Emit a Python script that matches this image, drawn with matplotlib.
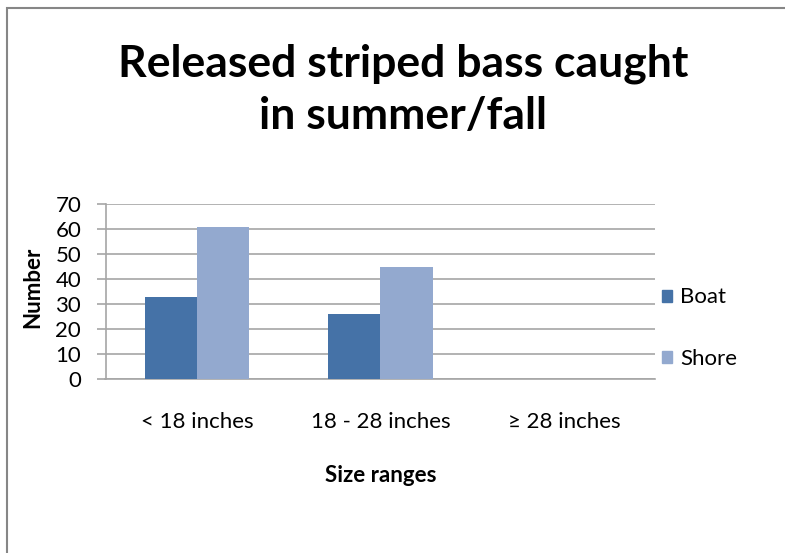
import matplotlib
matplotlib.use("Agg")
import matplotlib.pyplot as plt
from matplotlib.patches import Rectangle, Patch
import numpy as np

categories = ["< 18 inches", "18 - 28 inches", "\u2265 28 inches"]
boat = [33, 26, 0]
shore = [61, 45, 0]
series_names = ["Boat", "Shore"]
yticks = [0, 10, 20, 30, 40, 50, 60, 70]

FONT = ["Lato", "DejaVu Sans"]
plt.rcParams["font.family"] = FONT

W, H = 785, 553
fig = plt.figure(figsize=(W / 100, H / 100), dpi=100)

def fx(px):
    return px / W

def fy(py):
    return 1 - py / H

# outer chart border (left/top visible)
fig.patches.append(Rectangle((fx(7), -0.1), 1.2, fy(8.5) + 0.1, transform=fig.transFigure,
                             fill=False, edgecolor="#868686", linewidth=1.5))

L, R, T, B = 105.5, 655.5, 204, 379
ax = fig.add_axes([fx(L), fy(B), (R - L) / W, (B - T) / H])

x = np.arange(len(categories))
bw = 0.285
ax.bar(x - bw / 2, boat, bw, color="#4572A7", label=series_names[0], zorder=3)
ax.bar(x + bw / 2, shore, bw, color="#93A9CF", label=series_names[1], zorder=3)

ax.set_xlim(-0.5, len(categories) - 0.5)
ax.set_ylim(0, 70)
ax.set_yticks(yticks)
ax.yaxis.grid(True, color="#A6A6A6", linewidth=1.2, zorder=0)
ax.set_axisbelow(True)
for s in ["top", "right"]:
    ax.spines[s].set_visible(False)
for s in ["left", "bottom"]:
    ax.spines[s].set_color("#A6A6A6")
    ax.spines[s].set_linewidth(1.2)
ax.tick_params(axis="y", length=6.5, width=1.2, color="#A6A6A6", labelsize=16, pad=11)
ax.tick_params(axis="x", length=0, labelsize=16, pad=24)
ax.set_xticks(x)
ax.set_xticklabels(categories)

fig.text(fx(33), fy(287), "Number", rotation=90, ha="center", va="center",
         fontsize=16, fontweight="bold")
fig.text(fx((L + R) / 2), fy(475), "Size ranges", ha="center", va="center",
         fontsize=16, fontweight="bold")

fig.text(fx(403), fy(90), "Released striped bass caught\nin summer/fall",
         ha="center", va="center", fontsize=32, fontweight="bold", linespacing=1.36)

handles = [Patch(color="#4572A7"), Patch(color="#93A9CF")]
fig.legend(handles, series_names, loc="center left", bbox_to_anchor=(fx(662), fy(328)),
           frameon=False, fontsize=16, handlelength=0.45, handleheight=0.45,
           handletextpad=0.36, labelspacing=1.85, borderaxespad=0, borderpad=0)

fig.savefig("out.png", dpi=100)
